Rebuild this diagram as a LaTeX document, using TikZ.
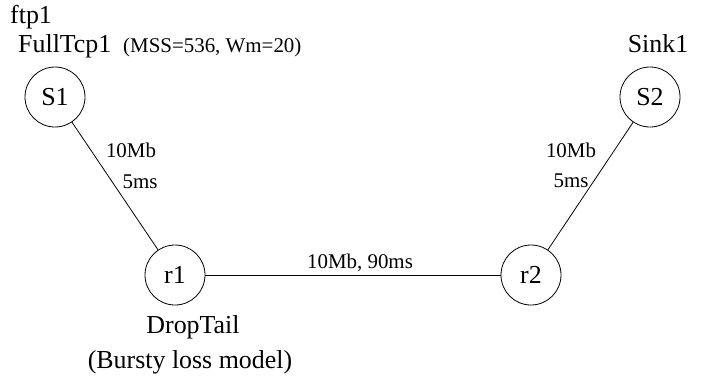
\documentclass[tikz,border=0pt]{standalone}
\usepackage{fontspec}
\setmainfont{Liberation Serif}
\usepackage{tikz}

\tikzset{
  host/.style={draw, circle, minimum size=60bp, inner sep=0pt, line width=0.8bp, font=\fontsize{26}{30}\selectfont},
  link/.style={line width=0.8bp},
  biglabel/.style={font=\fontsize{26}{30}\selectfont, inner sep=0pt},
  smalllabel/.style={font=\fontsize{21}{25}\selectfont, inner sep=0pt},
}

\begin{document}
\begin{tikzpicture}[x=1bp, y=-1bp]
    \useasboundingbox (0,0) rectangle (715,381);
    % Draw the nodes
    \node[host] (S1) at (55,97) {S1};
    \node[host] (S2) at (650,97) {S2};
    \node[host] (r1) at (175,275) {r1};
    \node[host] (r2) at (531,275) {r2};
    % Draw the links
    \draw[link] (S1) -- (r1);
    \draw[link] (r1) -- (r2);
    \draw[link] (S2) -- (r2);
    % Draw the link labels
    \node[smalllabel] (bw1) at (131,150) {10Mb};
    \node[smalllabel] (dl1) at (140,182) {5ms};
    \node[smalllabel] (bw2) at (571,150) {10Mb};
    \node[smalllabel] (dl2) at (571,181) {5ms};
    \node[smalllabel, anchor=base] (mid) at (360,268) {10Mb, 90ms};
    % Draw the agents and queue
    \node[biglabel, anchor=base west] (ftp) at (10,23) {ftp1};
    \node[biglabel, anchor=base west] (tcp) at (18,52) {FullTcp1};
    \node[smalllabel, anchor=base west] (mss) at (123,52) {(MSS=536, Wm=20)};
    \node[biglabel, anchor=base] (sink) at (658,52) {Sink1};
    \node[biglabel, anchor=base] (queue) at (193,333) {DropTail};
    \node[biglabel, anchor=base] (loss) at (190,368) {(Bursty loss model)};
\end{tikzpicture}
\end{document}
